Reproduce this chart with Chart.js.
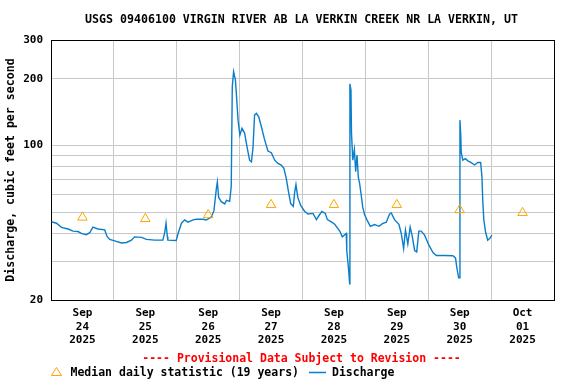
<!DOCTYPE html>
<html>
<head>
<meta charset="utf-8">
<script src="https://cdn.jsdelivr.net/npm/chart.js@4/dist/chart.umd.min.js"></script>
<style>
  html, body { margin: 0; padding: 0; background: #fff; }
  #wrap { width: 576px; height: 384px; position: relative; }
</style>
</head>
<body>
<div id="wrap"><canvas id="c" width="576" height="384"></canvas></div>
<script>
// ---- data (hours since Sep 24 2025 00:00) ----
const titleText = "USGS 09406100 VIRGIN RIVER AB LA VERKIN CREEK NR LA VERKIN, UT";
const yAxisTitle = "Discharge, cubic feet per second";
const footerText = "---- Provisional Data Subject to Revision ----";
const medianLabel = "Median daily statistic (19 years)";
const dischargeLabel = "Discharge";

const dischargeHours = [0.2, 2.1, 4.0, 6.5, 8.4, 10.3, 11.6, 13.5, 14.8, 16.0,
  17.9, 20.5, 21.4, 22.4, 24.3, 26.9, 28.8, 30.7, 31.9, 34.6,
  36.4, 39.6, 42.7, 43.4, 43.9, 44.4, 44.6, 47.8, 48.5, 49.8,
  51.0, 52.3, 54.2, 55.5, 58.0, 59.3, 61.2, 62.2, 63.1, 63.5,
  64.0, 65.0, 66.3, 67.0, 68.2, 68.8, 69.2, 69.7, 70.4, 70.7,
  71.4, 72.1, 72.9, 73.9, 74.9, 75.8, 76.5, 77.1, 77.7, 78.4,
  79.3, 80.3, 81.5, 82.8, 84.1, 85.4, 86.6, 87.9, 88.9, 89.8,
  90.7, 91.5, 92.5, 93.0, 93.5, 94.2, 95.3, 96.8, 98.1, 100.0,
  101.3, 102.5, 103.4, 104.7, 105.5, 107.0, 108.3, 109.3, 110.2, 111.2,
  112.7, 112.9, 113.6, 114.0, 114.1, 114.5, 114.7, 115.2, 115.8, 116.3,
  116.8, 117.3, 117.8, 118.4, 119.0, 119.7, 120.6, 121.9, 123.5, 125.2,
  126.5, 128.0, 129.2, 129.9, 131.1, 132.8, 133.7, 134.6, 135.3, 136.2,
  137.1, 137.9, 138.8, 139.6, 140.4, 141.3, 142.6, 144.2, 145.8, 147.1,
  150.2, 153.4, 154.4, 154.9, 155.6, 156.0, 156.1, 156.4, 156.6, 157.2,
  158.2, 159.1, 160.4, 161.7, 162.9, 164.0, 164.5, 164.8, 165.2, 165.9,
  166.7, 167.6, 168.3];
const dischargeValues = [45.2, 44.5, 42.6, 41.9, 41.0, 40.8, 40.0, 39.5, 40.3, 42.7,
  41.9, 41.5, 38.8, 37.6, 37.0, 36.2, 36.4, 37.3, 38.6, 38.4,
  37.6, 37.3, 37.3, 40.3, 44.5, 38.8, 37.3, 37.2, 40.0, 44.5,
  46.1, 45.0, 46.1, 46.4, 46.4, 46.0, 47.5, 50.7, 63.6, 68.4,
  58.2, 55.7, 54.4, 56.5, 55.9, 65.3, 184.6, 215.6, 197.5, 175.3,
  130.2, 111.4, 119.6, 113.8, 97.5, 85.8, 84.4, 97.5, 137.2, 139.7,
  134.7, 121.6, 106.6, 94.4, 92.8, 85.8, 83.0, 81.6, 78.9, 71.0,
  61.3, 54.6, 53.0, 61.3, 66.5, 58.2, 53.6, 50.4, 49.0, 49.3,
  46.2, 48.6, 50.3, 49.3, 46.2, 45.1, 44.0, 42.4, 41.0, 38.6,
  40.0, 33.5, 27.4, 23.7, 190, 178, 113.8, 85.8, 95.8, 76.1,
  90.6, 72.0, 67.4, 59.7, 52.6, 48.6, 46.1, 43.1, 43.9, 43.1,
  44.3, 45.0, 48.9, 49.5, 46.2, 44.0, 40.0, 34.2, 41.5, 35.9,
  42.7, 38.8, 33.5, 33.0, 41.0, 41.0, 39.3, 35.5, 32.8, 31.8,
  31.8, 31.7, 31.0, 28.1, 25.2, 25.2, 130.2, 111.4, 92.8, 85.8,
  87.2, 85.2, 83.7, 81.6, 83.7, 83.7, 72.0, 56.5, 46.2, 40.5,
  37.3, 38.1, 39.3];

const medianHours = [12, 36, 60, 84, 108, 132, 156, 180];
const medianValues = [47.3, 46.6, 48.5, 53.9, 53.9, 53.9, 51.1, 49.6];

const dayMonths = ["Sep", "Sep", "Sep", "Sep", "Sep", "Sep", "Sep", "Oct"];
const dayNumbers = ["24", "25", "26", "27", "28", "29", "30", "01"];
const dayYears = ["2025", "2025", "2025", "2025", "2025", "2025", "2025", "2025"];

const yTickValues = [20, 30, 40, 50, 60, 70, 80, 90, 100, 200, 300];
const yLabelValues = [20, 100, 200, 300];

// ---- styles ----
const MONO = "'DejaVu Sans Mono', 'Liberation Mono', monospace";
const BLUE = "#0a7ecb";
const ORANGE = "#ffa500";
const GRID = "#c8c8c8";

const dischargeData = dischargeHours.map((h, i) => ({ x: h, y: dischargeValues[i] }));
const medianData = medianHours.map((h, i) => ({ x: h, y: medianValues[i] }));

const decorPlugin = {
  id: 'decor',
  beforeDatasetsDraw(chart) {
    const { ctx, chartArea: a } = chart;
    ctx.save();
    ctx.strokeStyle = '#000';
    ctx.lineWidth = 1;
    ctx.strokeRect(Math.round(a.left) + 0.5, Math.round(a.top) + 0.5,
      Math.round(a.right - a.left), Math.round(a.bottom - a.top));
    ctx.restore();
  },
  afterDraw(chart) {
    const { ctx, chartArea: a } = chart;
    ctx.save();
    const cx = (a.left + a.right) / 2;
    ctx.textBaseline = 'middle';
    // title
    ctx.fillStyle = '#000';
    ctx.font = "bold 11.6px " + MONO;
    ctx.textAlign = 'center';
    ctx.fillText(titleText, cx - 1, 20);
    // provisional
    ctx.fillStyle = '#ff0000';
    ctx.font = "bold 11.5px " + MONO;
    ctx.fillText(footerText, cx - 1, 359);
    // legend
    ctx.textAlign = 'left';
    ctx.fillStyle = '#000';
    ctx.fillText(medianLabel, 70.5, 373);
    ctx.fillText(dischargeLabel, 332, 373);
    // triangle
    ctx.strokeStyle = ORANGE;
    ctx.lineWidth = 1;
    ctx.beginPath();
    ctx.moveTo(56.5, 367.5);
    ctx.lineTo(61.5, 375.5);
    ctx.lineTo(51.5, 375.5);
    ctx.closePath();
    ctx.stroke();
    // line
    ctx.strokeStyle = BLUE;
    ctx.lineWidth = 1.5;
    ctx.beginPath();
    ctx.moveTo(309, 372.5);
    ctx.lineTo(326, 372.5);
    ctx.stroke();
    ctx.restore();
  }
};

new Chart(document.getElementById('c'), {
  data: {
    datasets: [
      {
        type: 'line',
        label: medianLabel,
        data: medianData,
        showLine: false,
        pointStyle: 'triangle',
        pointRadius: 5.5,
        pointHoverRadius: 5.5,
        pointBorderColor: ORANGE,
        pointBackgroundColor: 'rgba(0,0,0,0)',
        pointBorderWidth: 1,
        borderColor: ORANGE,
        backgroundColor: 'rgba(0,0,0,0)'
      },
      {
        type: 'line',
        label: dischargeLabel,
        data: dischargeData,
        borderColor: BLUE,
        backgroundColor: BLUE,
        borderWidth: 1.4,
        pointRadius: 0,
        tension: 0,
        fill: false
      }
    ]
  },
  options: {
    responsive: false,
    devicePixelRatio: 1,
    animation: false,
    events: [],
    layout: { padding: { top: 40, right: 22, bottom: 0, left: 0 } },
    plugins: {
      legend: { display: false },
      title: { display: false },
      tooltip: { enabled: false }
    },
    scales: {
      x: {
        type: 'linear',
        position: 'bottom',
        min: 0,
        max: 192,
        afterBuildTicks(scale) {
          const t = [];
          for (let v = 0; v <= 192; v += 12) t.push({ value: v });
          scale.ticks = t;
        },
        afterFit(scale) { scale.height = 84; },
        border: { display: false },
        grid: {
          drawTicks: false,
          color: (c) => (c.tick && c.tick.value % 24 === 0 && c.tick.value > 0 && c.tick.value < 192) ? GRID : 'rgba(0,0,0,0)',
          lineWidth: 1
        },
        ticks: {
          autoSkip: false,
          maxRotation: 0,
          minRotation: 0,
          padding: 7,
          color: '#000',
          font: { family: MONO, size: 11, weight: 'bold', lineHeight: 1.2 },
          callback(value) {
            if (value % 24 !== 12) return '';
            const i = (value - 12) / 24;
            return [dayMonths[i], dayNumbers[i], dayYears[i]];
          }
        }
      },
      y: {
        type: 'logarithmic',
        position: 'left',
        min: 20,
        max: 300,
        afterBuildTicks(scale) {
          scale.ticks = yTickValues.map(v => ({ value: v }));
        },
        afterFit(scale) { scale.width = 51; },
        border: { display: false },
        grid: {
          drawTicks: false,
          color: (c) => (c.tick && c.tick.value > 20 && c.tick.value < 300) ? GRID : 'rgba(0,0,0,0)',
          lineWidth: 1
        },
        ticks: {
          padding: 8,
          color: '#000',
          font: { family: MONO, size: 11, weight: 'bold' },
          callback(value) {
            return yLabelValues.includes(value) ? String(value) : '';
          }
        },
        title: {
          display: true,
          text: yAxisTitle,
          color: '#000',
          font: { family: MONO, size: 11.6, weight: 'bold', lineHeight: 1.2 },
          padding: { top: 4, bottom: 0 }
        }
      }
    }
  },
  plugins: [decorPlugin]
});
</script>
</body>
</html>
